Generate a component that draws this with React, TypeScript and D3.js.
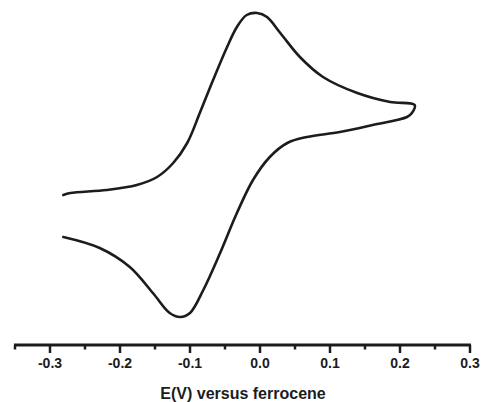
import React, { useEffect, useRef } from 'react';
import * as d3 from 'd3';

// potential (V vs Fc) and current (arbitrary units), forward scan then reverse scan
const forwardE = [-0.281, -0.271, -0.219, -0.176, -0.147, -0.124, -0.104, -0.086, -0.067, -0.047, -0.033, -0.019, -0.004, 0.010, 0.029, 0.057, 0.090, 0.139, 0.186, 0.221];
const forwardI = [0.20, 0.24, 0.30, 0.40, 0.56, 0.84, 1.24, 1.84, 2.50, 3.16, 3.56, 3.80, 3.84, 3.76, 3.44, 2.96, 2.56, 2.24, 2.06, 2.00];
const reverseE = [0.217, 0.210, 0.161, 0.114, 0.067, 0.039, 0.014, -0.010, -0.033, -0.057, -0.081, -0.100, -0.114, -0.129, -0.153, -0.186, -0.229, -0.281];
const reverseI = [1.84, 1.76, 1.60, 1.46, 1.36, 1.24, 0.96, 0.50, -0.16, -0.96, -1.70, -2.16, -2.24, -2.16, -1.76, -1.24, -0.86, -0.64];
const tickValues = [-0.3, -0.2, -0.1, 0.0, 0.1, 0.2, 0.3];
const minorTicks = [-0.35, -0.25, -0.15, -0.05, 0.05, 0.15, 0.25];
const xLabel = 'E(V) versus ferrocene';

export default function App() {
  const ref = useRef<SVGSVGElement>(null);

  useEffect(() => {
    const svg = d3.select(ref.current);
    svg.selectAll('*').remove();

    const x = d3.scaleLinear().domain([-0.35, 0.3]).range([15, 470]);
    const y = d3.scaleLinear().domain([-2.5, 3.5]).range([330, 30]);
    const axisY = 345;
    const font = '"Liberation Sans", Arial, sans-serif';

    const pts: [number, number][] = [
      ...forwardE.map((e, i) => [e, forwardI[i]] as [number, number]),
      ...reverseE.map((e, i) => [e, reverseI[i]] as [number, number]),
    ];

    const line = d3.line<[number, number]>()
      .x(d => x(d[0]))
      .y(d => y(d[1]))
      .curve(d3.curveCatmullRom.alpha(0.5));

    svg.append('path')
      .attr('d', line(pts))
      .attr('fill', 'none')
      .attr('stroke', '#1c1c1c')
      .attr('stroke-width', 2.6)
      .attr('stroke-linejoin', 'round')
      .attr('stroke-linecap', 'round');

    // x axis
    const g = svg.append('g').attr('transform', `translate(0,${axisY})`);
    g.append('line')
      .attr('x1', x(-0.35) - 1).attr('x2', x(0.3) + 1)
      .attr('stroke', '#1c1c1c').attr('stroke-width', 3);

    g.selectAll('.major').data(tickValues).enter().append('line')
      .attr('class', 'major')
      .attr('x1', d => x(d)).attr('x2', d => x(d))
      .attr('y1', 0).attr('y2', 8)
      .attr('stroke', '#1c1c1c').attr('stroke-width', 2.5);

    g.selectAll('.minor').data(minorTicks).enter().append('line')
      .attr('class', 'minor')
      .attr('x1', d => x(d)).attr('x2', d => x(d))
      .attr('y1', 0).attr('y2', 4.5)
      .attr('stroke', '#1c1c1c').attr('stroke-width', 2.5);

    g.selectAll('.tlabel').data(tickValues).enter().append('text')
      .attr('class', 'tlabel')
      .attr('x', d => x(d))
      .attr('y', 23)
      .attr('text-anchor', 'middle')
      .attr('font-family', font)
      .attr('font-weight', 'bold')
      .attr('font-size', 14)
      .attr('fill', '#1c1c1c')
      .text(d => d3.format('.1f')(d).replace('−', '-'));

    svg.append('text')
      .attr('x', 243)
      .attr('y', 399)
      .attr('text-anchor', 'middle')
      .attr('font-family', font)
      .attr('font-weight', 'bold')
      .attr('font-size', 16)
      .attr('fill', '#1c1c1c')
      .text(xLabel);
  }, []);

  return (
    <svg ref={ref} width={482} height={402}
      style={{ position: 'absolute', left: 0, top: 0, background: '#fff' }} />
  );
}
